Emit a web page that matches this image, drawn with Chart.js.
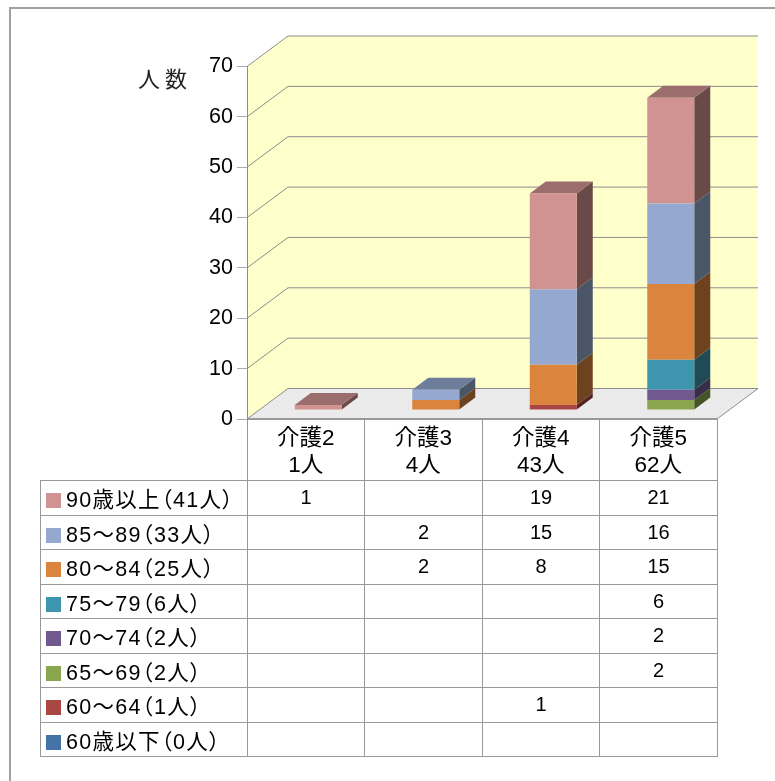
<!DOCTYPE html>
<html lang="ja">
<head>
<meta charset="utf-8">
<title>介護度別年齢構成</title>
<script src="https://cdn.jsdelivr.net/npm/chart.js@4/dist/chart.umd.min.js"></script>
<style>
  html, body { margin: 0; padding: 0; background: #fff; overflow: hidden; }
  #wrap { position: relative; width: 775px; height: 781px; }
  canvas { position: absolute; left: 0; top: 0; }
  #dataTable {
    position: absolute; left: 40px; top: 480px;
    border-collapse: collapse; table-layout: fixed; width: 677px;
    font: 20px "Liberation Sans", "Noto Sans CJK JP", sans-serif;
    font-feature-settings: "palt"; color: #000;
  }
  #dataTable td { border: 1px solid #999; height: 33.5px; padding: 0; text-align: center; white-space: nowrap; }
  #dataTable td.head { text-align: left; padding-left: 5px; font-size: 21.5px; letter-spacing: 1.3px; }
  #dataTable .key { display: inline-block; width: 15px; height: 15px; margin-right: 5px; vertical-align: -1px; }
</style>
</head>
<body>
<div id="wrap">
  <canvas id="careChart" width="775" height="781"></canvas>
  <table id="dataTable"></table>
</div>
<script>
const CATEGORIES = [['介護2', '1人'], ['介護3', '4人'], ['介護4', '43人'], ['介護5', '62人']];
const AGE_LABELS = ['90歳以上（41人）', '85～89（33人）', '80～84（25人）', '75～79（6人）', '70～74（2人）', '65～69（2人）', '60～64（1人）', '60歳以下（0人）'];

const AGE_90 = [1, null, 19, 21];
const AGE_85 = [null, 2, 15, 16];
const AGE_80 = [null, 2, 8, 15];
const AGE_75 = [null, null, null, 6];
const AGE_70 = [null, null, null, 2];
const AGE_65 = [null, null, null, 2];
const AGE_60 = [null, null, 1, null];
const AGE_UNDER = [null, null, null, null];
const SERIES = [AGE_90, AGE_85, AGE_80, AGE_75, AGE_70, AGE_65, AGE_60, AGE_UNDER];

const COLORS = ['#d19392', '#95a9d0', '#db843d', '#3d96ae', '#71588f', '#89a54e', '#aa4643', '#4572a7'];
const WALL = '#ffffcc';
const LINE = '#8c8c8c';
const FONT = '"Liberation Sans", "Noto Sans CJK JP", sans-serif';

// 3d look: how far the back wall and the bars sit from the front plane
const WALL_DX = 41, WALL_DY = -30.5;
const BAR_DX = 12.5, BAR_DY = -9;
const DEPTH_DX = 16, DEPTH_DY = -12;

function shade(hex, k) {
  const n = parseInt(hex.slice(1), 16);
  const c = [n >> 16, (n >> 8) & 255, n & 255].map((v) => Math.round(v * k));
  return `rgb(${c.join(',')})`;
}

function floorPattern(ctx) {
  const tile = document.createElement('canvas');
  tile.width = tile.height = 4;
  const t = tile.getContext('2d');
  t.fillStyle = '#ececec';
  t.fillRect(0, 0, 4, 4);
  t.fillStyle = '#e0e0e0';
  t.fillRect(0, 0, 1, 1);
  t.fillRect(2, 2, 1, 1);
  return ctx.createPattern(tile, 'repeat');
}

function poly(ctx, pts, fill, stroke) {
  ctx.beginPath();
  pts.forEach((p, i) => (i ? ctx.lineTo(p[0], p[1]) : ctx.moveTo(p[0], p[1])));
  ctx.closePath();
  if (fill) { ctx.fillStyle = fill; ctx.fill(); }
  if (stroke) { ctx.strokeStyle = stroke; ctx.stroke(); }
}

const box3d = {
  id: 'box3d',
  beforeDraw(chart) {
    const { ctx, chartArea: a, scales: { y } } = chart;
    const bottom = y.getPixelForValue(0);
    const top = y.getPixelForValue(70);

    ctx.save();
    // outer frame
    ctx.strokeStyle = '#a0a0a0';
    ctx.lineWidth = 2;
    ctx.beginPath();
    ctx.moveTo(10, 781);
    ctx.lineTo(10, 8);
    ctx.lineTo(775, 8);
    ctx.stroke();

    // walls
    const bx = a.left + WALL_DX, rx = a.right + WALL_DX;
    poly(ctx, [[a.left, top], [bx, top + WALL_DY], [rx, top + WALL_DY], [rx, bottom + WALL_DY], [bx, bottom + WALL_DY], [a.left, bottom]], WALL);
    poly(ctx, [[a.left, bottom], [bx, bottom + WALL_DY], [rx, bottom + WALL_DY], [a.right, bottom]], floorPattern(ctx));

    // grid lines run along the side wall then the back wall
    ctx.lineWidth = 1;
    ctx.strokeStyle = LINE;
    y.ticks.forEach((t) => {
      const py = y.getPixelForValue(t.value);
      ctx.beginPath();
      ctx.moveTo(a.left, py);
      ctx.lineTo(bx, py + WALL_DY);
      ctx.lineTo(rx, py + WALL_DY);
      ctx.stroke();
    });
    ctx.beginPath();
    ctx.moveTo(rx, bottom + WALL_DY);
    ctx.lineTo(a.right, bottom);
    ctx.stroke();

    // header cells of the table under the plot
    ctx.strokeStyle = '#999';
    ctx.beginPath();
    CATEGORIES.concat([null]).forEach((c, i) => {
      const px = Math.floor(a.left + (a.right - a.left) * i / CATEGORIES.length) + 0.5;
      ctx.moveTo(px, bottom);
      ctx.lineTo(px, 480);
    });
    ctx.stroke();
    ctx.lineWidth = 2;
    ctx.beginPath();
    ctx.moveTo(a.left, bottom);
    ctx.lineTo(a.right, bottom);
    ctx.stroke();

    // axis title
    ctx.fillStyle = '#222';
    ctx.font = '22px "Noto Sans CJK JP", serif';
    ctx.textBaseline = 'middle';
    ctx.fillText('人', 138, 79);
    ctx.fillText('数', 165, 79);
    ctx.restore();
  },
  beforeDatasetsDraw(chart) {
    const { ctx } = chart;
    ctx.save();
    ctx.translate(BAR_DX, BAR_DY);
    const metas = chart.getSortedVisibleDatasetMetas();
    metas.forEach((meta) => {
      const color = chart.data.datasets[meta.index].backgroundColor;
      meta.data.forEach((bar, i) => {
        if (!chart.data.datasets[meta.index].data[i]) return;
        const p = bar.getProps(['x', 'y', 'base', 'width']);
        const l = p.x - p.width / 2, r = p.x + p.width / 2;
        poly(ctx, [[r, p.y], [r + DEPTH_DX, p.y + DEPTH_DY], [r + DEPTH_DX, p.base + DEPTH_DY], [r, p.base]], shade(color, 0.5));
        const isTop = !chart.data.datasets.slice(meta.index + 1).some((d) => d.data[i]);
        if (isTop) {
          poly(ctx, [[l, p.y], [l + DEPTH_DX, p.y + DEPTH_DY], [r + DEPTH_DX, p.y + DEPTH_DY], [r, p.y]], shade(color, 0.74));
        }
      });
    });
  },
  afterDatasetsDraw(chart) {
    chart.ctx.restore();
  },
};

// bottom segment of the stack is the last row of the table
const datasets = SERIES.map((values, i) => ({
  label: AGE_LABELS[i],
  data: values,
  backgroundColor: COLORS[i],
  barPercentage: 0.4,
  categoryPercentage: 1,
  clip: false,
})).reverse();

new Chart(document.getElementById('careChart'), {
  type: 'bar',
  data: { labels: CATEGORIES, datasets },
  plugins: [box3d],
  options: {
    responsive: false,
    animation: false,
    events: [],
    layout: { padding: { left: 187, right: 58, top: 66.5, bottom: 301 } },
    plugins: { legend: { display: false }, tooltip: { enabled: false } },
    scales: {
      x: {
        stacked: true,
        afterFit: (s) => { s.height = 61; },
        grid: { display: false },
        border: { display: false },
        ticks: { color: '#000', maxRotation: 0, autoSkip: false, padding: -2, font: { family: FONT, size: 22.5, lineHeight: 1.2 } },
      },
      y: {
        stacked: true,
        min: 0,
        max: 70,
        afterFit: (s) => { s.width = 60; },
        grid: { drawOnChartArea: false, color: '#aaa', tickLength: 10 },
        border: { color: LINE },
        ticks: { stepSize: 10, color: '#000', padding: 4, font: { family: FONT, size: 21.5 } },
      },
    },
  },
});

const table = document.getElementById('dataTable');
table.innerHTML = `<colgroup><col style="width:207px"><col style="width:117px"><col style="width:118px"><col style="width:117px"><col style="width:118px"></colgroup>` +
  AGE_LABELS.map((label, r) => `<tr><td class="head"><span class="key" style="background:${COLORS[r]}"></span>${label}</td>` +
    SERIES[r].map((v) => `<td>${v === null ? '' : v}</td>`).join('') + '</tr>').join('');
</script>
</body>
</html>
